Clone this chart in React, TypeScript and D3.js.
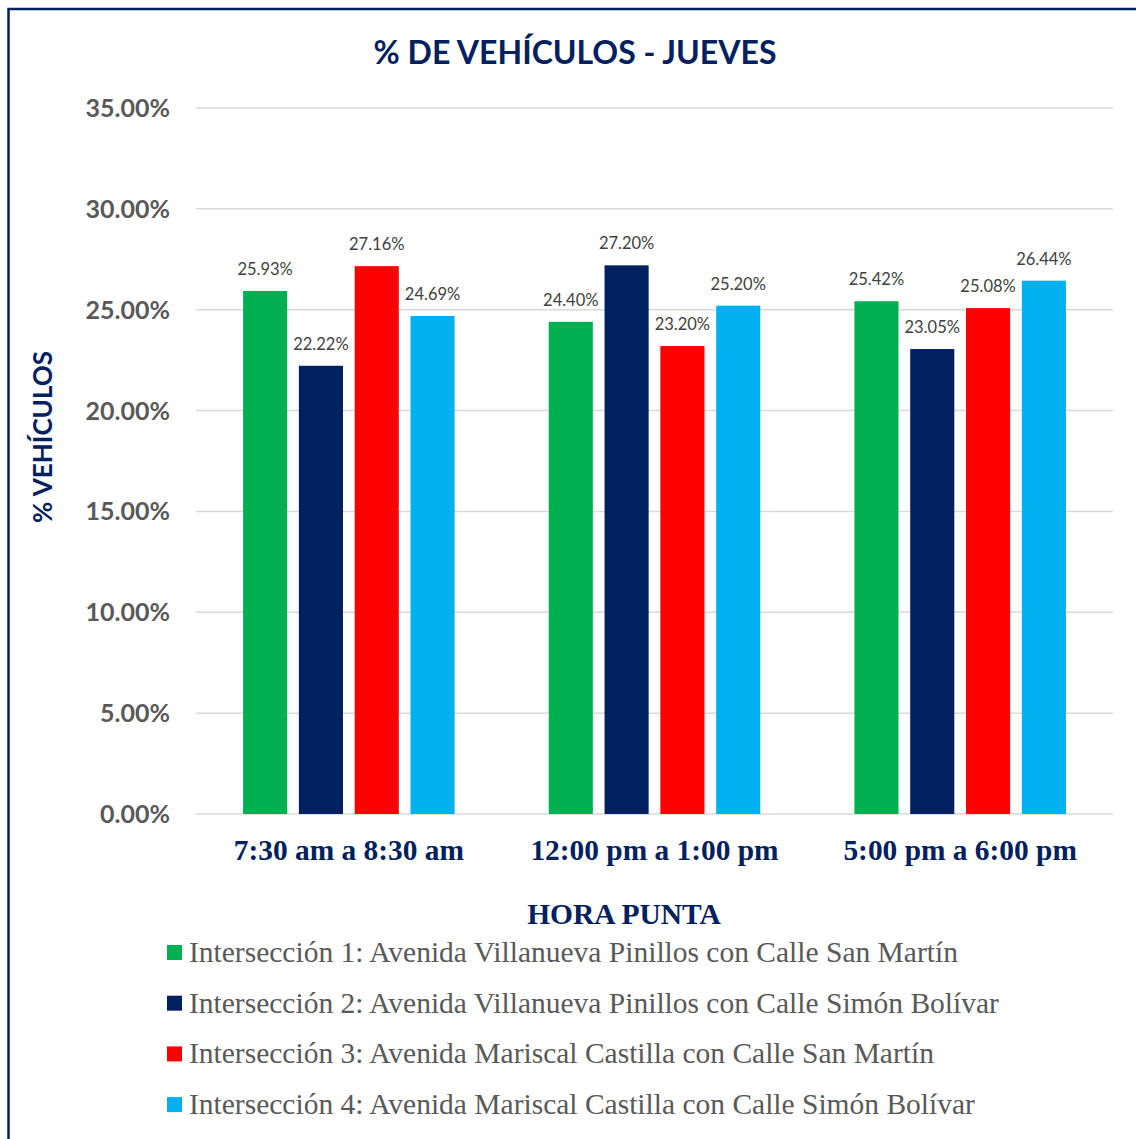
import React from 'react';
import * as d3 from 'd3';

const categories = ['7:30 am a 8:30 am', '12:00 pm a 1:00 pm', '5:00 pm a 6:00 pm'];
const seriesNames = [
  'Intersección 1: Avenida Villanueva Pinillos con Calle San Martín',
  'Intersección 2: Avenida Villanueva Pinillos con Calle Simón Bolívar',
  'Intersección 3: Avenida Mariscal Castilla con Calle San Martín',
  'Intersección 4: Avenida Mariscal Castilla con Calle Simón Bolívar'
];
const seriesColors = ['#00B050', '#002060', '#FF0000', '#00B0F0'];
const inter1 = [25.93, 24.4, 25.42];
const inter2 = [22.22, 27.2, 23.05];
const inter3 = [27.16, 23.2, 25.08];
const inter4 = [24.69, 25.2, 26.44];
const seriesValues = [inter1, inter2, inter3, inter4];
const yTicks = [0, 5, 10, 15, 20, 25, 30, 35];

const W = 1136;
const H = 1139;
const navy = '#002060';
const gray = '#595959';
const sans = 'Lato, "Open Sans", "DejaVu Sans", sans-serif';
const serif = '"Liberation Serif", "Times New Roman", serif';

const App: React.FC = () => {
  const plot = { left: 196, right: 1113, top: 108, bottom: 814 };

  const y = d3.scaleLinear().domain([0, 35]).range([plot.bottom, plot.top]);
  const x0 = d3.scaleBand<string>().domain(categories).range([plot.left, plot.right]).padding(0);
  const bw = x0.bandwidth();
  const x1 = d3.scaleBand<number>()
    .domain(d3.range(seriesNames.length))
    .range([bw * 0.154, bw * 0.846])
    .paddingInner(0.21)
    .paddingOuter(0);

  return (
    <svg
      width={W}
      height={H}
      style={{ position: 'absolute', left: 0, top: 0, background: '#fff' }}
    >
      <rect x={8.5} y={9} width={1200} height={1200} fill="#fff" stroke={navy} strokeWidth={2.5} />

      <text x={575} y={64} textAnchor="middle" fontFamily={sans} fontWeight={700} fontSize={32} fill={navy}>
        % DE VEHÍCULOS - JUEVES
      </text>

      {yTicks.map(t => (
        <g key={t}>
          <line x1={plot.left} x2={plot.right} y1={y(t)} y2={y(t)} stroke="#D9D9D9" strokeWidth={1.5} />
          <text x={170} y={y(t) + 9} textAnchor="end" fontFamily={sans} fontWeight={700} fontSize={25} fill={gray}>
            {t.toFixed(2) + '%'}
          </text>
        </g>
      ))}

      <text
        transform={`translate(52,437) rotate(-90)`}
        textAnchor="middle"
        fontFamily={sans}
        fontWeight={700}
        fontSize={26}
        fill={navy}
      >
        % VEHÍCULOS
      </text>

      {seriesValues.map((vals, si) => (
        <g key={si}>
          {categories.map((c, ci) => {
            const bx = (x0(c) ?? 0) + (x1(si) ?? 0);
            const by = y(vals[ci]);
            return (
              <g key={c}>
                <rect x={bx} y={by} width={x1.bandwidth()} height={plot.bottom - by} fill={seriesColors[si]} />
                <text
                  x={bx + x1.bandwidth() / 2}
                  y={by - 16}
                  textAnchor="middle"
                  fontFamily={sans}
                  fontSize={16.5}
                  fill="#404040"
                >
                  {vals[ci].toFixed(2) + '%'}
                </text>
              </g>
            );
          })}
        </g>
      ))}

      {categories.map(c => (
        <text
          key={c}
          x={(x0(c) ?? 0) + bw / 2}
          y={860}
          textAnchor="middle"
          fontFamily={serif}
          fontWeight={700}
          fontSize={29.4}
          fill={navy}
        >
          {c}
        </text>
      ))}

      <text x={624} y={924} textAnchor="middle" fontFamily={serif} fontWeight={700} fontSize={29.5} fill={navy}>
        HORA PUNTA
      </text>

      {seriesNames.map((name, i) => {
        const ly = 962 + i * 50.7;
        return (
          <g key={name}>
            <rect x={167} y={ly - 17} width={15} height={15} fill={seriesColors[i]} />
            <text x={189} y={ly} fontFamily={serif} fontSize={29.5} fill={gray}>
              {name}
            </text>
          </g>
        );
      })}
    </svg>
  );
};

export default App;
